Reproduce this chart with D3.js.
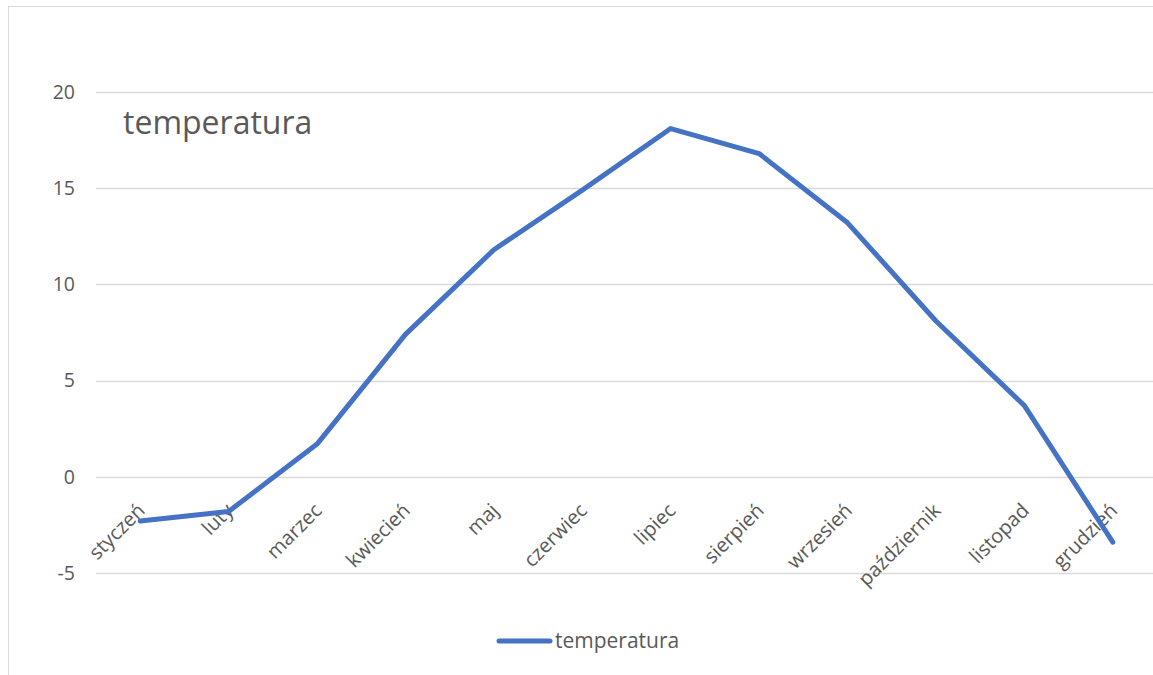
<!DOCTYPE html>
<html>
<head>
<meta charset="utf-8">
<script src="https://cdn.jsdelivr.net/npm/d3@7"></script>
<style>
  body { margin: 0; background: #fff; }
  text { font-family: "Open Sans", "Noto Sans", sans-serif; fill: #595959; }
</style>
</head>
<body>
<div id="chart"></div>
<script>
// Data
const months = ['styczeń', 'luty', 'marzec', 'kwiecień', 'maj', 'czerwiec',
    'lipiec', 'sierpień', 'wrzesień', 'październik', 'listopad', 'grudzień']
const temps = [-2.3, -1.8, 1.7, 7.4, 11.8, 14.9, 18.1, 16.8, 13.2, 8.1, 3.7, -3.4]
const yTicks = [-5, 0, 5, 10, 15, 20]
const seriesName = 'temperatura'

// Dimensions
const W = 1153, H = 675
const plot = { left: 96, right: 1157, top: 92, bottom: 573 }

const svg = d3.select('#chart')
    .append('svg')
    .attr('width', W)
    .attr('height', H)

// chart border
svg.append('rect')
    .attr('x', 8.5).attr('y', 6.5)
    .attr('width', W).attr('height', H)
    .attr('fill', 'none')
    .attr('stroke', '#d9d9d9')

// Scales
let x = d3.scaleBand().domain(months).range([plot.left, plot.right])
let y = d3.scaleLinear().domain([-5, 20]).range([plot.bottom, plot.top])

// Gridlines
svg.append('g')
    .selectAll('line')
    .data(yTicks)
    .enter()
    .append('line')
    .attr('x1', plot.left)
    .attr('x2', W)
    .attr('y1', d => Math.round(y(d)) + 0.5)
    .attr('y2', d => Math.round(y(d)) + 0.5)
    .attr('stroke', '#d9d9d9')
    .attr('stroke-width', 1.3)

// Y axis labels
let yAxis = svg.append('g')
    .attr('transform', 'translate(' + (plot.left - 21) + ',0)')
    .call(d3.axisLeft(y).tickValues(yTicks).tickSize(0).tickPadding(0).tickFormat(d => String(d)))
yAxis.select('.domain').remove()
yAxis.selectAll('text')
    .attr('font-size', 19.5)
    .attr('fill', '#595959')
    .style('font-family', '"Open Sans", sans-serif')

// X axis labels (at the zero line, rotated)
svg.append('g')
    .selectAll('text')
    .data(months)
    .enter()
    .append('text')
    .attr('text-anchor', 'end')
    .attr('font-size', 20)
    .attr('transform', d => 'translate(' + (x(d) + x.bandwidth() / 2 + 6) + ',' + (y(0) + 35) + ') rotate(-45)')
    .text(d => d)

// Line
const line = d3.line()
    .x((d, i) => x(months[i]) + x.bandwidth() / 2)
    .y(d => y(d))

svg.append('path')
    .datum(temps)
    .attr('d', line)
    .attr('fill', 'none')
    .attr('stroke', '#4472C4')
    .attr('stroke-width', 5)
    .attr('stroke-linecap', 'round')
    .attr('stroke-linejoin', 'round')

// Title
svg.append('text')
    .attr('x', 123)
    .attr('y', 134)
    .attr('font-size', 32)
    .text(seriesName)

// Legend
svg.append('line')
    .attr('x1', 499).attr('x2', 550)
    .attr('y1', 641).attr('y2', 641)
    .attr('stroke', '#4472C4')
    .attr('stroke-width', 5)
    .attr('stroke-linecap', 'round')
svg.append('text')
    .attr('x', 555)
    .attr('y', 648)
    .attr('font-size', 21)
    .text(seriesName)
</script>
</body>
</html>
